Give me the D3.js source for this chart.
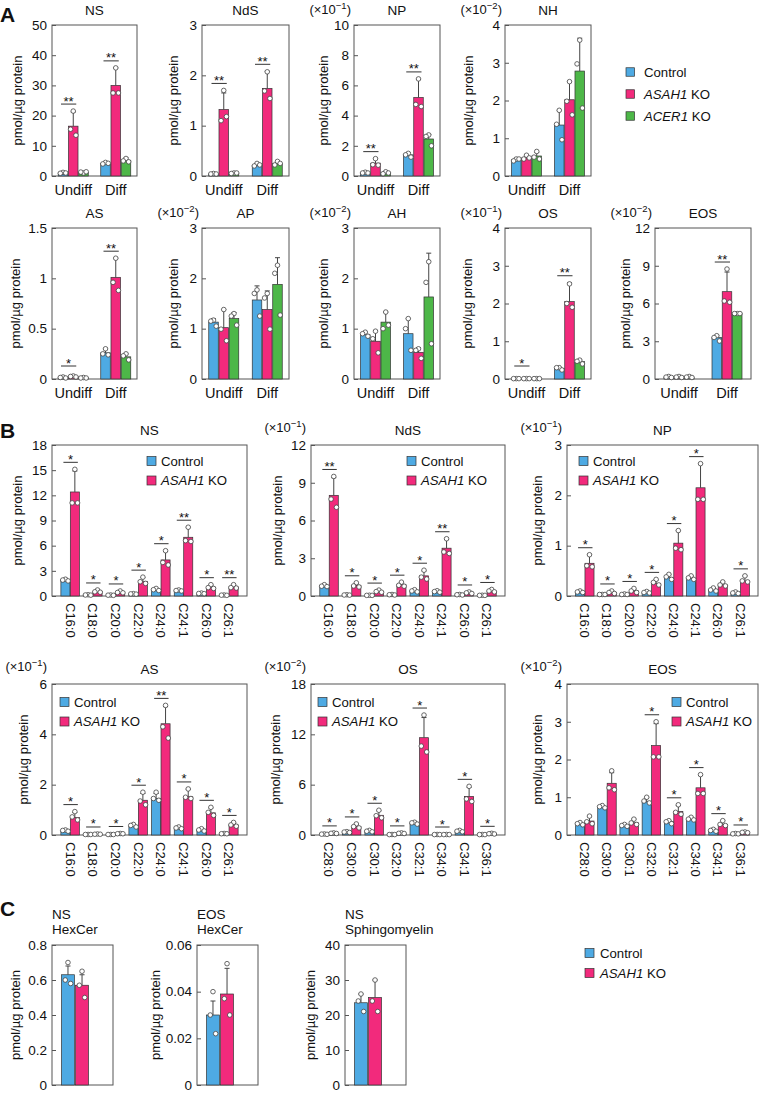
<!DOCTYPE html>
<html>
<head>
<meta charset="utf-8">
<script src="https://cdn.jsdelivr.net/npm/d3@7"></script>
<style>
  body { margin: 0; background: #fff; }
  text { font-family: "Liberation Sans", Arial, sans-serif; fill: #111; }
</style>
</head>
<body>
<svg id="fig" width="762" height="1097"></svg>
<script>
// ---------- data ----------
// every bar: [mean, mean+SD, dot1, dot2, dot3]
const seriesA = ["Control", "ASAH1 KO", "ACER1 KO"];
const groupsA = ["Undiff", "Diff"];

const aNS = [
  [[1.0, 1.3, 1.2, 0.9, 1.0], [16.5, 21.2, 21.5, 15.5, 13.5], [1.2, 1.5, 1.0, 1.3, 1.4]],
  [[4.2, 4.7, 4.5, 4.0, 4.2], [30.0, 35.8, 35.8, 27.5, 27.5], [5.2, 6.0, 5.8, 5.0, 4.7]]
];
const aNdS = [
  [[0.04, 0.05, 0.05, 0.04, 0.04], [1.32, 1.65, 1.7, 1.1, 1.18], [0.05, 0.06, 0.06, 0.05, 0.06]],
  [[0.21, 0.25, 0.25, 0.2, 0.22], [1.74, 2.08, 2.07, 1.69, 1.54], [0.25, 0.29, 0.29, 0.22, 0.25]]
];
const aNP = [
  [[0.2, 0.25, 0.25, 0.2, 0.2], [0.85, 1.15, 1.15, 0.75, 0.72], [0.2, 0.27, 0.28, 0.15, 0.2]],
  [[1.4, 1.55, 1.5, 1.4, 1.25], [5.2, 6.4, 6.43, 4.74, 4.6], [2.45, 2.75, 2.72, 2.62, 2.0]]
];
const aNH = [
  [[0.43, 0.47, 0.45, 0.4, 0.45], [0.48, 0.55, 0.55, 0.45, 0.48], [0.53, 0.63, 0.65, 0.5, 0.45]],
  [[1.35, 1.74, 1.74, 1.37, 0.96], [2.02, 2.5, 2.5, 1.98, 1.62], [2.78, 3.65, 3.6, 2.97, 1.8]]
];
const aAS = [
  [[0.015, 0.02, 0.02, 0.015, 0.01], [0.025, 0.035, 0.03, 0.025, 0.02], [0.012, 0.015, 0.015, 0.01, 0.01]],
  [[0.26, 0.3, 0.3, 0.25, 0.24], [1.01, 1.2, 1.2, 0.96, 0.88], [0.22, 0.25, 0.25, 0.23, 0.19]]
];
const aAP = [
  [[1.13, 1.2, 1.17, 1.15, 1.05], [1.02, 1.38, 1.38, 0.99, 0.76], [1.2, 1.32, 1.3, 1.25, 1.07]],
  [[1.57, 1.85, 1.77, 1.7, 1.25], [1.38, 1.75, 1.7, 1.61, 0.99], [1.88, 2.41, 2.26, 2.1, 1.27]]
];
const aAH = [
  [[0.88, 0.93, 0.93, 0.9, 0.85], [0.75, 0.96, 0.95, 0.8, 0.52], [1.13, 1.33, 1.33, 1.0, 1.07]],
  [[0.9, 1.2, 1.2, 1.0, 0.57], [0.53, 0.62, 0.6, 0.57, 0.41], [1.63, 2.5, 2.33, 1.92, 0.7]]
];
const aOS = [
  [[0.01, 0.012, 0.01, 0.01, 0.01], [0.01, 0.012, 0.01, 0.01, 0.01], [0.01, 0.012, 0.01, 0.01, 0.01]],
  [[0.28, 0.3, 0.3, 0.3, 0.24], [2.05, 2.55, 2.52, 2.0, 1.9], [0.46, 0.5, 0.5, 0.47, 0.4]]
];
const aEOS = [
  [[0.15, 0.2, 0.2, 0.15, 0.12], [0.15, 0.2, 0.2, 0.15, 0.12], [0.15, 0.2, 0.2, 0.15, 0.12]],
  [[3.3, 3.45, 3.44, 3.3, 3.02], [6.94, 8.5, 8.74, 6.2, 6.1], [5.2, 5.25, 5.2, 5.2, 5.2]]
];
const sigA_NS = ["**", "**"], sigA_NdS = ["**", "**"], sigA_NP = ["**", "**"], sigA_NH = [null, null];
const sigA_AS = ["*", "**"], sigA_AP = [null, null], sigA_AH = [null, null];
const sigA_OS = ["*", "**"], sigA_EOS = [null, "**"];

const seriesB = ["Control", "ASAH1 KO"];
const chainsB1 = ["C16:0", "C18:0", "C20:0", "C22:0", "C24:0", "C24:1", "C26:0", "C26:1"];
const chainsB2 = ["C28:0", "C30:0", "C30:1", "C32:0", "C32:1", "C34:0", "C34:1", "C36:1"];

const bNS = [
  [[1.9, 2.1, 2.0, 1.9, 1.8], [12.4, 14.9, 15.1, 11.1, 11.1]],
  [[0.12, 0.15, 0.15, 0.12, 0.1], [0.55, 0.7, 0.72, 0.5, 0.45]],
  [[0.1, 0.12, 0.12, 0.1, 0.08], [0.45, 0.6, 0.6, 0.42, 0.38]],
  [[0.25, 0.28, 0.28, 0.25, 0.22], [1.75, 2.2, 2.25, 1.7, 1.5]],
  [[0.75, 0.88, 0.9, 0.75, 0.65], [4.3, 5.3, 5.4, 4.0, 3.7]],
  [[0.65, 0.72, 0.72, 0.65, 0.6], [7.0, 8.2, 8.2, 6.6, 6.5]],
  [[0.3, 0.35, 0.35, 0.3, 0.28], [1.05, 1.3, 1.35, 1.0, 0.9]],
  [[0.1, 0.12, 0.12, 0.1, 0.08], [1.1, 1.32, 1.35, 1.0, 0.95]]
];
const bNdS = [
  [[0.8, 0.9, 0.9, 0.78, 0.75], [8.0, 9.4, 9.5, 7.7, 7.05]],
  [[0.08, 0.1, 0.1, 0.08, 0.07], [0.85, 1.02, 1.05, 0.8, 0.72]],
  [[0.05, 0.06, 0.06, 0.05, 0.05], [0.35, 0.45, 0.47, 0.35, 0.3]],
  [[0.1, 0.12, 0.12, 0.1, 0.08], [0.9, 1.08, 1.1, 0.85, 0.78]],
  [[0.4, 0.48, 0.5, 0.4, 0.33], [1.6, 2.0, 2.05, 1.5, 1.35]],
  [[0.35, 0.4, 0.42, 0.35, 0.3], [3.8, 4.5, 4.55, 3.5, 3.38]],
  [[0.1, 0.12, 0.12, 0.1, 0.08], [0.25, 0.3, 0.32, 0.25, 0.2]],
  [[0.05, 0.06, 0.06, 0.05, 0.05], [0.4, 0.5, 0.52, 0.4, 0.33]]
];
const bNP = [
  [[0.08, 0.1, 0.1, 0.08, 0.07], [0.65, 0.82, 0.82, 0.6, 0.58]],
  [[0.03, 0.03, 0.03, 0.03, 0.03], [0.07, 0.1, 0.1, 0.07, 0.05]],
  [[0.03, 0.04, 0.04, 0.03, 0.03], [0.1, 0.14, 0.15, 0.1, 0.07]],
  [[0.07, 0.09, 0.09, 0.07, 0.06], [0.25, 0.32, 0.33, 0.27, 0.22]],
  [[0.37, 0.43, 0.43, 0.38, 0.33], [1.05, 1.3, 1.3, 0.95, 0.92]],
  [[0.35, 0.4, 0.4, 0.36, 0.33], [2.15, 2.63, 2.63, 1.92, 1.92]],
  [[0.12, 0.16, 0.16, 0.12, 0.1], [0.22, 0.28, 0.28, 0.22, 0.2]],
  [[0.06, 0.08, 0.08, 0.06, 0.05], [0.3, 0.4, 0.4, 0.3, 0.28]]
];
const bAS = [
  [[0.18, 0.2, 0.2, 0.18, 0.15], [0.7, 0.9, 0.93, 0.72, 0.6]],
  [[0.02, 0.02, 0.02, 0.02, 0.02], [0.03, 0.04, 0.04, 0.03, 0.03]],
  [[0.02, 0.02, 0.02, 0.02, 0.02], [0.05, 0.06, 0.06, 0.05, 0.05]],
  [[0.37, 0.42, 0.42, 0.38, 0.32], [1.38, 1.65, 1.7, 1.35, 1.2]],
  [[1.45, 1.65, 1.7, 1.45, 1.38], [4.42, 5.1, 5.15, 4.3, 3.85]],
  [[0.28, 0.32, 0.32, 0.28, 0.25], [1.52, 1.82, 1.83, 1.5, 1.45]],
  [[0.2, 0.24, 0.25, 0.2, 0.16], [0.88, 1.08, 1.1, 0.9, 0.78]],
  [[0.05, 0.06, 0.06, 0.05, 0.05], [0.4, 0.5, 0.5, 0.4, 0.35]]
];
const bOS = [
  [[0.1, 0.12, 0.12, 0.1, 0.08], [0.2, 0.25, 0.25, 0.2, 0.18]],
  [[0.35, 0.4, 0.4, 0.35, 0.3], [1.0, 1.3, 1.32, 1.0, 0.85]],
  [[0.45, 0.55, 0.55, 0.45, 0.38], [2.35, 2.9, 2.95, 2.3, 2.05]],
  [[0.05, 0.06, 0.06, 0.05, 0.05], [0.2, 0.25, 0.25, 0.2, 0.18]],
  [[1.4, 1.55, 1.52, 1.45, 1.3], [11.6, 14.0, 14.3, 10.6, 9.9]],
  [[0.05, 0.06, 0.06, 0.05, 0.05], [0.05, 0.06, 0.06, 0.05, 0.05]],
  [[0.45, 0.55, 0.55, 0.45, 0.38], [4.6, 5.7, 5.8, 4.3, 4.0]],
  [[0.05, 0.06, 0.06, 0.05, 0.05], [0.15, 0.2, 0.2, 0.15, 0.12]]
];
const bEOS = [
  [[0.3, 0.33, 0.33, 0.3, 0.27], [0.37, 0.48, 0.5, 0.35, 0.3]],
  [[0.74, 0.78, 0.78, 0.75, 0.72], [1.37, 1.65, 1.7, 1.25, 1.2]],
  [[0.25, 0.28, 0.28, 0.25, 0.23], [0.32, 0.42, 0.42, 0.32, 0.28]],
  [[0.88, 1.0, 1.0, 0.9, 0.85], [2.37, 2.95, 3.0, 2.07, 2.07]],
  [[0.35, 0.38, 0.38, 0.35, 0.3], [0.62, 0.78, 0.8, 0.6, 0.55]],
  [[0.42, 0.47, 0.47, 0.42, 0.4], [1.25, 1.58, 1.6, 1.1, 1.1]],
  [[0.12, 0.15, 0.15, 0.12, 0.1], [0.28, 0.38, 0.38, 0.28, 0.25]],
  [[0.03, 0.04, 0.04, 0.03, 0.03], [0.07, 0.08, 0.08, 0.07, 0.06]]
];
const sigB_NS = ["*", "*", "*", "*", "*", "**", "*", "**"];
const sigB_NdS = ["**", "*", "*", "*", "*", "**", "*", "*"];
const sigB_NP = ["*", "*", "*", "*", "*", "*", null, "*"];
const sigB_AS = ["*", "*", "*", "*", "**", "*", "*", "*"];
const sigB_OS = ["*", "*", "*", "*", "*", "*", "*", "*"];
const sigB_EOS = [null, null, null, "*", "*", "*", "*", "*"];

const groupC = ["all"];
const cNSHex = [[[0.63, 0.68, 0.7, 0.6, 0.58], [0.57, 0.63, 0.65, 0.57, 0.5]]];
const cEOSHex = [[[0.03, 0.036, 0.04, 0.03, 0.022], [0.039, 0.05, 0.052, 0.037, 0.03]]];
const cSM = [[[23.5, 26, 26, 24, 21], [25, 30, 30, 24, 21]]];

// tick labels
const tA_NS = [0, 10, 20, 30, 40, 50], tA_NdS = [0, 1, 2, 3], tA_NP = [0, 2, 4, 6, 8, 10], tA_NH = [0, 1, 2, 3, 4];
const tA_AS = [0, 0.5, 1, 1.5], tA_AP = [0, 1, 2, 3], tA_AH = [0, 1, 2, 3], tA_OS = [0, 1, 2, 3, 4], tA_EOS = [0, 3, 6, 9, 12];
const tB_NS = [0, 3, 6, 9, 12, 15, 18], tB_NdS = [0, 3, 6, 9, 12], tB_NP = [0, 1, 2, 3];
const tB_AS = [0, 2, 4, 6], tB_OS = [0, 6, 12, 18], tB_EOS = [0, 1, 2, 3, 4];
const tC_NSHex = [0, 0.2, 0.4, 0.6, 0.8], tC_EOSHex = [0, 0.02, 0.04, 0.06], tC_SM = [0, 10, 20, 30, 40];

// ---------- drawing ----------
const colour = { "Control": "#4eaae3", "ASAH1 KO": "#f22a7c", "ACER1 KO": "#4db748" };
const svg = d3.select("#fig");
const dotDx = [0, -2.7, 2.7];

function seriesLabel(sel, name) {
  const parts = name.split(" ");
  sel.append("tspan").attr("font-style", parts[0] === "Control" ? null : "italic").text(parts[0]);
  if (parts[1]) sel.append("tspan").text(" " + parts[1]);
}

function panel(o) {
  const g = svg.append("g");
  const y = d3.scaleLinear().domain([0, o.ticks[o.ticks.length - 1]]).range([o.y + o.h, o.y]);
  const x = d3.scalePoint().domain(o.cats).range([o.x, o.x + o.w - (o.rightPad || 0)]).padding(o.pad);
  const sx = d3.scaleBand().domain(o.series).range([-o.gw / 2, o.gw / 2]).paddingInner(o.gap);

  g.append("rect").attr("x", o.x).attr("y", o.y).attr("width", o.w).attr("height", o.h)
    .attr("fill", "none").attr("stroke", "#555").attr("stroke-width", 1);

  const ax = g.append("g").attr("transform", `translate(${o.x},0)`)
    .call(d3.axisLeft(y).tickValues(o.ticks).tickSizeInner(-4).tickSizeOuter(0).tickPadding(5).tickFormat(d => String(d)));
  ax.attr("font-family", null).attr("font-size", null);
  ax.select(".domain").remove();
  ax.selectAll(".tick line").attr("stroke", "#555");
  ax.selectAll(".tick text").attr("font-size", 13.5).attr("fill", "#111");

  const rows = o.data.flatMap((grp, gi) => grp.map((v, si) => ({
    cat: o.cats[gi], ser: o.series[si], si, gi, mean: v[0], top: v[1], dots: v.slice(2)
  })));
  rows.forEach(r => { r.cx = x(r.cat) + sx(r.ser) + sx.bandwidth() / 2; });

  g.selectAll(".bar").data(rows).join("rect")
    .attr("x", r => x(r.cat) + sx(r.ser)).attr("width", sx.bandwidth())
    .attr("y", r => y(r.mean)).attr("height", r => y(0) - y(r.mean))
    .attr("fill", r => colour[r.ser]).attr("stroke", "#333").attr("stroke-width", 0.7);

  const eb = rows.filter(r => y(r.mean) - y(r.top) > 1);
  g.selectAll(".err").data(eb).join("line")
    .attr("x1", r => r.cx).attr("x2", r => r.cx).attr("y1", r => y(r.mean)).attr("y2", r => y(r.top))
    .attr("stroke", "#444").attr("stroke-width", 1);
  g.selectAll(".cap").data(eb).join("line")
    .attr("x1", r => r.cx - 2.5).attr("x2", r => r.cx + 2.5).attr("y1", r => y(r.top)).attr("y2", r => y(r.top))
    .attr("stroke", "#444").attr("stroke-width", 1);

  const pts = rows.flatMap(r => r.dots.map((d, j) => ({ cx: r.cx + dotDx[j], v: d })));
  g.selectAll(".dot").data(pts).join("circle")
    .attr("cx", p => p.cx).attr("cy", p => y(p.v)).attr("r", 2.3)
    .attr("fill", "#fff").attr("stroke", "#444").attr("stroke-width", 0.8);

  (o.sig || []).forEach((s, gi) => {
    if (!s) return;
    const pair = rows.filter(r => r.gi === gi && r.si < 2);
    const vmax = d3.max(pair, r => Math.max(r.top, ...r.dots));
    const ly = Math.min(y(vmax) - 7, y(0) - o.sigMin);
    const x1 = pair[0].cx - 2, x2 = pair[1].cx + 3;
    g.append("line").attr("x1", x1).attr("x2", x2).attr("y1", ly).attr("y2", ly)
      .attr("stroke", "#333").attr("stroke-width", 1);
    g.append("text").attr("x", (x1 + x2) / 2).attr("y", ly + 1.5).attr("text-anchor", "middle")
      .attr("font-size", 13).text(s);
  });

  if (o.title) {
    if (o.titleLeft) {
      o.title.forEach((t, i) => g.append("text").attr("x", o.x).attr("y", o.y - 26 + i * 15)
        .attr("font-size", 13.5).text(t));
    } else {
      g.append("text").attr("x", o.x + o.w / 2).attr("y", o.y - o.titleDy).attr("text-anchor", "middle")
        .attr("font-size", 13.5).text(o.title);
    }
  }
  if (o.mult) {
    const t = g.append("text").attr("x", o.x - o.multDx).attr("y", o.y - o.multDy)
      .attr("text-anchor", "end").attr("font-size", 13);
    t.append("tspan").text("(×10");
    t.append("tspan").attr("dy", -5).attr("font-size", 9.5).text("−" + o.mult);
    t.append("tspan").attr("dy", 5).text(")");
  }
  g.append("text").attr("transform", `translate(${o.ylx},${o.y + o.h / 2}) rotate(-90)`)
    .attr("text-anchor", "middle").attr("dy", "0.35em").attr("font-size", 13).text("pmol/µg protein");

  if (o.xlab === "h") {
    g.selectAll(".xl").data(o.cats).join("text")
      .attr("x", d => x(d)).attr("y", o.y + o.h + 19).attr("text-anchor", "middle")
      .attr("font-size", 14.5).text(d => d);
  } else if (o.xlab === "r") {
    g.selectAll(".xl").data(o.cats).join("text")
      .attr("transform", d => `translate(${x(d)},${o.y + o.h + 7}) rotate(90)`)
      .attr("dy", "0.35em").attr("font-size", 13).text(d => d);
  }

  if (o.legend) legend(o.series, o.legend);
}

function legend(series, L) {
  series.forEach((s, i) => {
    const cy = L.y + i * L.dy;
    svg.append("rect").attr("x", L.x).attr("y", cy - L.sq / 2).attr("width", L.sq).attr("height", L.sq)
      .attr("fill", colour[s]).attr("stroke", "#333").attr("stroke-width", 0.7);
    const t = svg.append("text").attr("x", L.x + L.tx).attr("y", cy + 4.5).attr("font-size", 13.2);
    seriesLabel(t, s);
  });
}

function panelA(x, y, w, title, data, ticks, sig, ylx, mult) {
  panel({ x, y, w, h: 151, cats: groupsA, series: seriesA, data, ticks, sig, ylx, mult, sigMin: 13,
    title, titleDy: 10, multDx: 3, multDy: 11, pad: 0.5, gw: 30, gap: 0.07, xlab: "h" });
}
function panelB(x, y, w, title, cats, data, ticks, sig, ylx, mult, lg) {
  panel({ x, y, w, h: 151, cats, series: seriesB, data, ticks, sig, ylx, mult, sigMin: 8,
    title, titleDy: 10, multDx: 5, multDy: 13, pad: 0.8, gw: 18.5, gap: 0.04, xlab: "r",
    legend: { x: lg[0], y: lg[1], dy: 19.5, sq: 9, tx: 14 } });
}
function panelC(x, title, data, ticks, ylx) {
  panel({ x, y: 945, w: 61, h: 140, cats: groupC, series: seriesB, data, ticks, sig: [], ylx,
    title, titleLeft: true, pad: 0.5, rightPad: 15, gw: 27, gap: 0.08, xlab: null });
}

// panel letters
[["A", 22], ["B", 438], ["C", 916]].forEach(([l, yy]) =>
  svg.append("text").attr("x", 0).attr("y", yy).attr("font-size", 21).attr("font-weight", "bold").text(l));

// A
panelA(52, 25, 85, "NS", aNS, tA_NS, sigA_NS, 17);
panelA(202, 25, 87, "NdS", aNdS, tA_NdS, sigA_NdS, 173);
panelA(354, 25, 86, "NP", aNP, tA_NP, sigA_NP, 323, 1);
panelA(505, 25, 86, "NH", aNH, tA_NH, sigA_NH, 468, 2);
legend(seriesA, { x: 626, y: 72, dy: 22, sq: 8.5, tx: 18 });
panelA(52, 228, 85, "AS", aAS, tA_AS, sigA_AS, 15);
panelA(202, 228, 87, "AP", aAP, tA_AP, sigA_AP, 173, 2);
panelA(354, 228, 86, "AH", aAH, tA_AH, sigA_AH, 323, 2);
panelA(505, 228, 86, "OS", aOS, tA_OS, sigA_OS, 467, 1);
panelA(655, 228, 96, "EOS", aEOS, tA_EOS, sigA_EOS, 625, 2);

// B
panelB(52, 445, 195, "NS", chainsB1, bNS, tB_NS, sigB_NS, 17, null, [147, 461]);
panelB(311, 445, 194, "NdS", chainsB1, bNdS, tB_NdS, sigB_NdS, 277, 1, [407, 461]);
panelB(567, 445, 191, "NP", chainsB1, bNP, tB_NP, sigB_NP, 537, 1, [579, 461]);
panelB(52, 684, 195, "AS", chainsB1, bAS, tB_AS, sigB_AS, 23, 1, [60, 702]);
panelB(311, 684, 194, "OS", chainsB2, bOS, tB_OS, sigB_OS, 275, 2, [318, 702]);
panelB(567, 684, 191, "EOS", chainsB2, bEOS, tB_EOS, sigB_EOS, 537, 2, [672, 702]);

// C
panelC(52, ["NS", "HexCer"], cNSHex, tC_NSHex, 15);
panelC(197, ["EOS", "HexCer"], cEOSHex, tC_EOSHex, 155);
panelC(345, ["NS", "Sphingomyelin"], cSM, tC_SM, 310);
legend(seriesB, { x: 585, y: 953, dy: 20, sq: 9, tx: 15 });
</script>
</body>
</html>
